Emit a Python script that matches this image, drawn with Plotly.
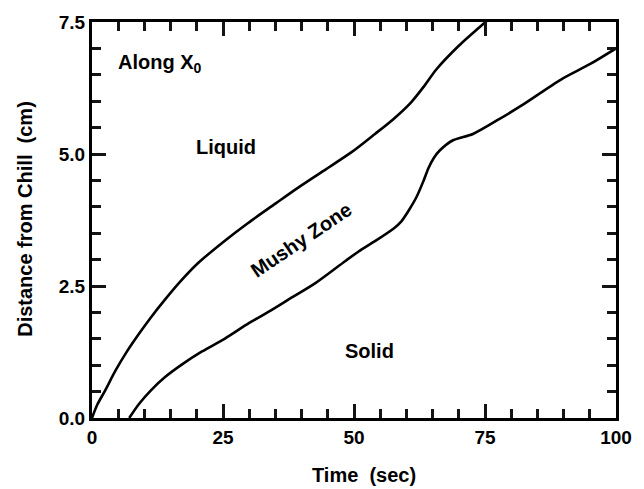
import plotly.graph_objects as go

# Liquidus (upper boundary of mushy zone)
liq_t = [0, 1.0, 2.5, 4.5, 6.8, 9.0, 11.2, 14.0, 17.0, 20.2, 25.0, 29.6, 35.0, 39.0, 44.0,
         49.6, 54.0, 57.5, 60.9, 63.5, 65.7, 70.0, 75.1, 77.0]
liq_d = [0, 0.25, 0.52, 0.90, 1.28, 1.60, 1.90, 2.25, 2.60, 2.93, 3.33, 3.68, 4.06, 4.34, 4.67,
         5.04, 5.38, 5.66, 5.98, 6.30, 6.60, 7.05, 7.50, 7.66]

# Solidus (lower boundary of mushy zone)
sol_t = [7.1, 9.0, 11.2, 14.0, 17.4, 21.0, 25.3, 30.0, 34.0, 37.6, 42.7, 48.3, 51.4, 54.0,
         57.7, 59.0, 60.5, 62.0, 63.3, 64.2, 65.2, 66.4, 68.9, 72.7, 77.7, 82.0, 89.5, 95.0, 100.0]
sol_d = [0, 0.27, 0.52, 0.78, 1.03, 1.26, 1.50, 1.80, 2.03, 2.25, 2.56, 2.97, 3.19, 3.35,
         3.60, 3.72, 3.94, 4.20, 4.50, 4.73, 4.92, 5.07, 5.26, 5.38, 5.66, 5.92, 6.41, 6.70, 7.00]

X_RANGE = [0, 100]
Y_RANGE = [0, 7.5]
X_MAJOR, X_MINOR = 25, 5
Y_MAJOR, Y_MINOR = 2.5, 0.5

FONT = "Liberation Sans"
TICK_COLOR = "#141414"

fig = go.Figure()
for t, d in [(liq_t, liq_d), (sol_t, sol_d)]:
    fig.add_trace(go.Scatter(
        x=t, y=d, mode="lines",
        line=dict(color="black", width=2.6, shape="spline", smoothing=0.8),
        hoverinfo="skip", showlegend=False,
    ))

# empty trace so the overlaid minor-tick axes get drawn
fig.add_trace(go.Scatter(x=[], y=[], xaxis="x2", yaxis="y2", showlegend=False,
                         hoverinfo="skip"))

# main axes: frame, major ticks and tick labels
frame = dict(
    showline=True, linecolor="black", linewidth=3, mirror="allticks",
    ticks="inside", ticklen=14, tickwidth=3, tickcolor=TICK_COLOR,
    showgrid=False, zeroline=False,
    tickfont=dict(family=FONT, size=19, color="black", weight="bold"),
)

# overlaid axes carrying only the minor ticks
minor = dict(
    showline=False, showgrid=False, zeroline=False, showticklabels=False,
    ticks="inside", ticklen=9, tickwidth=3, tickcolor=TICK_COLOR,
    mirror="ticks", tickmode="linear", tick0=0,
)

fig.update_layout(
    xaxis=dict(range=X_RANGE, tickmode="linear", tick0=0, dtick=X_MAJOR, **frame),
    yaxis=dict(range=Y_RANGE, tickmode="linear", tick0=0, dtick=Y_MAJOR, tickformat=".1f",
               **frame),
    xaxis2=dict(range=X_RANGE, overlaying="x", anchor="y2", side="bottom", dtick=X_MINOR,
                **minor),
    yaxis2=dict(range=Y_RANGE, overlaying="y", anchor="x2", side="left", dtick=Y_MINOR,
                **minor),
)

text_font = dict(family=FONT, size=20, color="black", weight="bold")

annotations = [
    dict(text="Along X<sub>0</sub>", x=161, y=61),
    dict(text="Liquid", x=229, y=145),
    dict(text="Solid", x=375, y=350),
    dict(text="Mushy Zone", x=305, y=239, textangle=-34),
    dict(text="Time  (sec)", x=369, y=475),
    dict(text="Distance from Chill  (cm)", x=23, y=217, textangle=-90),
]

# annotation positions are given in page pixels; convert to paper coordinates
L, R, T, B = 92, 626, 19, 418
for a in annotations:
    px, py = a["x"], a["y"]
    fig.add_annotation(
        text=a["text"], x=(px - L) / (R - L), y=(B - py) / (B - T),
        xref="paper", yref="paper", showarrow=False,
        textangle=a.get("textangle", 0), font=text_font,
        xanchor="center", yanchor="middle",
    )

fig.update_layout(
    width=644, height=489,
    margin=dict(l=L, r=644 - R, t=T, b=489 - B),
    paper_bgcolor="white", plot_bgcolor="white",
    font=dict(family=FONT, color="black"),
)

fig.write_html("out.html")
